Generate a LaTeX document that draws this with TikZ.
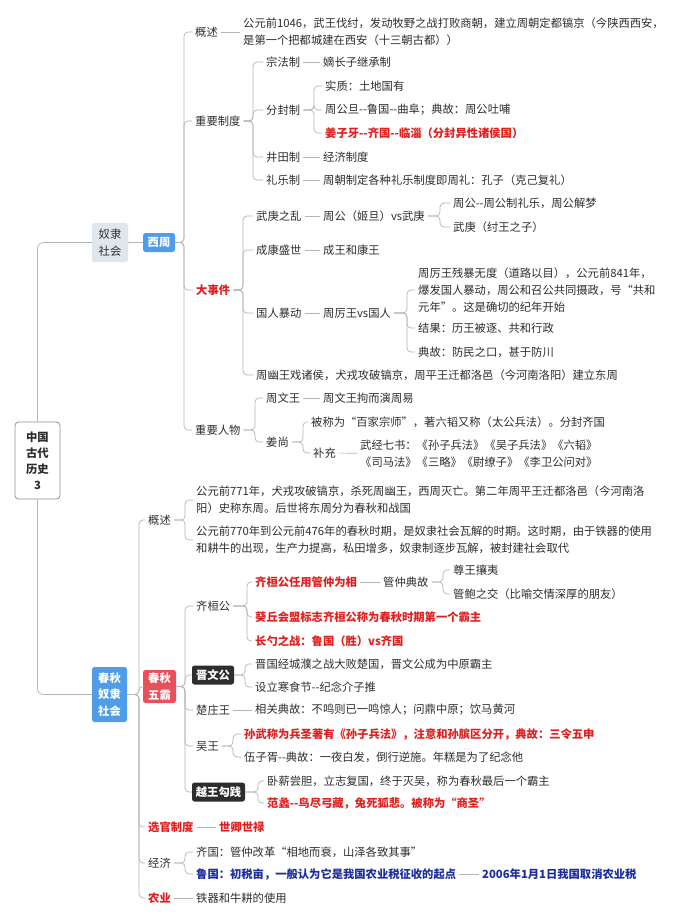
\documentclass[tikz,border=0pt]{standalone}
\usepackage{fontspec}
\setmainfont{Noto Sans CJK SC}[Ligatures=TeXOff]
\definecolor{txtc}{HTML}{2E2E2E}
\definecolor{redc}{HTML}{E0201E}
\definecolor{bluec}{HTML}{1C2E9E}
\definecolor{linec}{HTML}{B5B5B5}
\definecolor{greyfill}{HTML}{DFE6EC}
\definecolor{bluefill}{HTML}{4F9DE8}
\definecolor{redfill}{HTML}{E9505A}
\definecolor{darkfill}{HTML}{2D2D2D}
\tikzset{
  txt/.style={anchor=west, inner xsep=3pt, inner ysep=1pt, align=left, text=txtc, font=\fontsize{11.3}{17}\selectfont},
  redtxt/.style={txt, text=redc, font=\fontsize{11.3}{17}\selectfont\bfseries},
  bluetxt/.style={txt, text=bluec, font=\fontsize{11.3}{17}\selectfont\bfseries},
  conn/.style={draw=linec, line width=0.7pt, rounded corners=4pt},
  boxbase/.style={rounded corners=2.5pt, inner sep=0pt, align=center, font=\fontsize{11.3}{16.5}\selectfont},
  greybox/.style={boxbase, fill=greyfill, text=txtc},
  bluebox/.style={boxbase, fill=bluefill, text=white, font=\fontsize{11.3}{16.5}\selectfont\bfseries},
  redbox/.style={boxbase, fill=redfill, text=white, font=\fontsize{11.3}{16.5}\selectfont\bfseries},
  darkbox/.style={boxbase, fill=darkfill, text=white, font=\fontsize{11.3}{16.5}\selectfont\bfseries},
  rootbox/.style={boxbase, draw=gray!85, line width=0.8pt, fill=white, text=txtc, rounded corners=3.5pt, font=\fontsize{11.3}{16}\selectfont\bfseries},
}
\newcommand\branch[3]{%
  \coordinate (S#1) at (#2,0);
  \foreach \c in {#3} {\draw[conn] (#1.east) -- (#1.east -| S#1) |- (\c.west);}
}
\begin{document}
\begin{tikzpicture}[x=1pt,y=-1pt]
\fill[white] (0,0) rectangle (690,919);
\useasboundingbox (0,0) rectangle (690,919);

% ---------- root and level 1 ----------
\node[rootbox, minimum width=45pt, minimum height=77pt] (root) at (37.5,460.5) {中国\\古代\\历史\\3};
\node[greybox, minimum width=36pt, minimum height=39pt] (nl) at (110,242.5) {奴隶\\社会};
\node[bluebox, minimum width=32pt, minimum height=19pt] (xz) at (159,242.5) {西周};
\node[bluebox, minimum width=35pt, minimum height=55pt] (cq) at (109.5,694.5) {春秋\\奴隶\\社会};

% ---------- Western Zhou ----------
\node[txt] (g1) at (192,32) {概述};
\node[txt] (g1a) at (240,32) {公元前1046，武王伐纣，发动牧野之战打败商朝，建立周朝定都镐京（今陕西西安，\\是第一个把都城建在西安（十三朝古都））};

\node[txt] (zy) at (192,121) {重要制度};
\node[txt] (zf) at (263,62) {宗法制};
\node[txt] (zfa) at (320,62) {嫡长子继承制};
\node[txt] (ff) at (263,110) {分封制};
\node[txt] (ffa) at (322,86) {实质：土地国有};
\node[txt] (ffb) at (322,110) {周公旦-{}-鲁国-{}-曲阜；典故：周公吐哺};
\node[redtxt] (ffc) at (322,133) {姜子牙-{}-齐国-{}-临淄（分封异性诸侯国）};
\node[txt] (jt) at (263,157) {井田制};
\node[txt] (jta) at (320,157) {经济制度};
\node[txt] (ly) at (263,180) {礼乐制};
\node[txt] (lya) at (320,180) {周朝制定各种礼乐制度即周礼：孔子（克己复礼）};

\node[redtxt] (dsj) at (193,290) {大事件};
\node[txt] (wg) at (253,216) {武庚之乱};
\node[txt] (wga) at (320,216) {周公（姬旦）vs武庚};
\node[txt] (wgb) at (450,203) {周公-{}-周公制礼乐，周公解梦};
\node[txt] (wgc) at (450,227) {武庚（纣王之子）};
\node[txt] (ck) at (253,250) {成康盛世};
\node[txt] (cka) at (320,250) {成王和康王};
\node[txt] (gr) at (253,313) {国人暴动};
\node[txt] (gra) at (320,313) {周厉王vs国人};
\node[txt] (grb) at (415,290) {周厉王残暴无度（道路以目），公元前841年，\\爆发国人暴动，周公和召公共同摄政，号“共和\\元年”。这是确切的纪年开始};
\node[txt] (grc) at (415,328) {结果：历王被逐、共和行政};
\node[txt] (grd) at (415,352) {典故：防民之口，甚于防川};
\node[txt] (yw) at (253,375) {周幽王戏诸侯，犬戎攻破镐京，周平王迁都洛邑（今河南洛阳）建立东周};

\node[txt] (rw) at (192,430) {重要人物};
\node[txt] (zw) at (263,398) {周文王};
\node[txt] (zwa) at (320,398) {周文王拘而演周易};
\node[txt] (js) at (263,442) {姜尚};
\node[txt] (jsa) at (308,422) {被称为“百家宗师”，著六韬又称（太公兵法）。分封齐国};
\node[txt] (bc) at (310,453) {补充};
\node[txt, align=center] (bca) at (357,454) {武经七书：《孙子兵法》《吴子兵法》《六韬》\\《司马法》《三略》《尉缭子》《李卫公问对》};

% ---------- Spring and Autumn ----------
\node[txt] (g2) at (145,520) {概述};
\node[txt] (g2a) at (193,500) {公元前771年，犬戎攻破镐京，杀死周幽王，西周灭亡。第二年周平王迁都洛邑（今河南洛\\阳）史称东周。后世将东周分为春秋和战国};
\node[txt] (g2b) at (193,540) {公元前770年到公元前476年的春秋时期，是奴隶社会瓦解的时期。这时期，由于铁器的使用\\和耕牛的出现，生产力提高，私田增多，奴隶制逐步瓦解，被封建社会取代};

\node[redbox, minimum width=33pt, minimum height=33pt] (wb) at (159.5,686.5) {春秋\\五霸};
\node[txt] (qh) at (193,606) {齐桓公};
\node[redtxt] (qha) at (252,582) {齐桓公任用管仲为相};
\node[txt] (gz) at (380,582) {管仲典故};
\node[txt] (gza) at (450,570) {尊王攘夷};
\node[txt] (gzb) at (450,594) {管鲍之交（比喻交情深厚的朋友）};
\node[redtxt] (qhb) at (252,617) {葵丘会盟标志齐桓公称为春秋时期第一个霸主};
\node[redtxt] (qhc) at (252,641) {长勺之战：鲁国（胜）vs齐国};
\node[darkbox, minimum width=42pt, minimum height=19pt] (jw) at (213,675) {晋文公};
\node[txt] (jwa) at (252,664) {晋国经城濮之战大败楚国，晋文公成为中原霸主};
\node[txt] (jwb) at (252,687) {设立寒食节-{}-纪念介子推};
\node[txt] (cz) at (193,710) {楚庄王};
\node[txt] (cza) at (252,710) {相关典故：不鸣则已一鸣惊人；问鼎中原；饮马黄河};
\node[txt] (ww) at (193,746) {吴王};
\node[redtxt] (wwa) at (241,734) {孙武称为兵圣著有《孙子兵法》，注意和孙膑区分开，典故：三令五申};
\node[txt] (wwb) at (241,757) {伍子胥-{}-典故：一夜白发，倒行逆施。年糕是为了纪念他};
\node[darkbox, minimum width=53pt, minimum height=19pt] (yg) at (218.5,792) {越王勾践};
\node[txt] (yga) at (264,781) {卧薪尝胆，立志复国，终于灭吴，称为春秋最后一个霸主};
\node[redtxt] (ygb) at (264,803) {范蠡-{}-鸟尽弓藏，兔死狐悲。被称为“商圣”};

\node[redtxt] (xg) at (145,827) {选官制度};
\node[redtxt] (xga) at (216,827) {世卿世禄};
\node[txt] (jj) at (145,863) {经济};
\node[txt] (jja) at (193,852) {齐国：管仲改革“相地而衰，山泽各致其事”};
\node[bluetxt] (jjb) at (193,874) {鲁国：初税亩，一般认为它是我国农业税征收的起点};
\node[bluetxt] (jjc) at (479,874) {2006年1月1日我国取消农业税};
\node[redtxt] (ny) at (145,898) {农业};
\node[txt] (nya) at (193,898) {铁器和牛耕的使用};

% ---------- connectors ----------
\draw[conn, rounded corners=6pt] (root.north) |- (nl.west);
\draw[conn, rounded corners=6pt] (root.south) |- (cq.west);
\draw[conn] (nl.east) -- (xz.west);

\branch{xz}{184}{g1,zy,dsj,rw}
\draw[conn] (g1) -- (g1a);
\branch{zy}{253}{zf,ff,jt,ly}
\draw[conn] (zf) -- (zfa);
\branch{ff}{314}{ffa,ffb,ffc}
\draw[conn] (jt) -- (jta);
\draw[conn] (ly) -- (lya);
\branch{dsj}{243}{wg,ck,gr,yw}
\draw[conn] (wg) -- (wga);
\branch{wga}{440}{wgb,wgc}
\draw[conn] (ck) -- (cka);
\draw[conn] (gr) -- (gra);
\branch{gra}{407}{grb,grc,grd}
\branch{rw}{255}{zw,js}
\draw[conn] (zw) -- (zwa);
\branch{js}{303}{jsa,bc}
\draw[conn] (bc) -- (bca);

\branch{cq}{139}{g2,wb,xg,jj,ny}
\branch{g2}{185}{g2a,g2b}
\branch{wb}{185}{qh,jw,cz,ww,yg}
\branch{qh}{247}{qha,qhb,qhc}
\draw[conn] (qha) -- (gz);
\branch{gz}{443}{gza,gzb}
\branch{jw}{245}{jwa,jwb}
\draw[conn] (cz) -- (cza);
\branch{ww}{233}{wwa,wwb}
\branch{yg}{258}{yga,ygb}
\draw[conn] (xg) -- (xga);
\branch{jj}{185}{jja,jjb}
\draw[conn] (jjb) -- (jjc);
\draw[conn] (ny) -- (nya);
\end{tikzpicture}
\end{document}
